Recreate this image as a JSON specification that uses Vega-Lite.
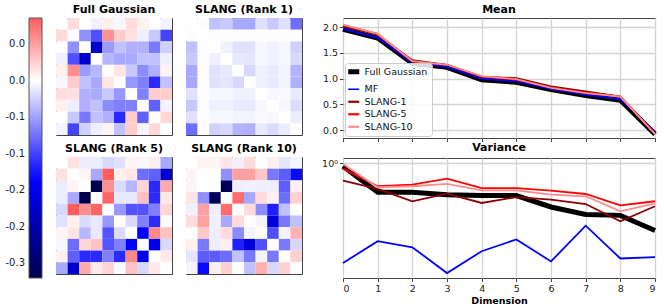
{
  "$schema": "https://vega.github.io/schema/vega-lite/v6.json",
  "background": "white",
  "padding": {"left": 29, "top": 3, "right": 2, "bottom": 2},
  "datasets": {
    "heat": [
      {"p":"Full Gaussian","r":0,"c":0,"v":0},{"p":"Full Gaussian","r":0,"c":1,"v":0.019},{"p":"Full Gaussian","r":0,"c":2,"v":0},{"p":"Full Gaussian","r":0,"c":3,"v":-0.008},{"p":"Full Gaussian","r":0,"c":4,"v":0.008},{"p":"Full Gaussian","r":0,"c":5,"v":-0.004},{"p":"Full Gaussian","r":0,"c":6,"v":0.018},{"p":"Full Gaussian","r":0,"c":7,"v":0.008},{"p":"Full Gaussian","r":0,"c":8,"v":0},{"p":"Full Gaussian","r":0,"c":9,"v":-0.006},
      {"p":"Full Gaussian","r":1,"c":0,"v":0.019},{"p":"Full Gaussian","r":1,"c":1,"v":0},{"p":"Full Gaussian","r":1,"c":2,"v":-0.059},{"p":"Full Gaussian","r":1,"c":3,"v":-0.093},{"p":"Full Gaussian","r":1,"c":4,"v":0.059},{"p":"Full Gaussian","r":1,"c":5,"v":0.027},{"p":"Full Gaussian","r":1,"c":6,"v":0.016},{"p":"Full Gaussian","r":1,"c":7,"v":-0.009},{"p":"Full Gaussian","r":1,"c":8,"v":-0.029},{"p":"Full Gaussian","r":1,"c":9,"v":-0.099},
      {"p":"Full Gaussian","r":2,"c":0,"v":0},{"p":"Full Gaussian","r":2,"c":1,"v":-0.059},{"p":"Full Gaussian","r":2,"c":2,"v":0},{"p":"Full Gaussian","r":2,"c":3,"v":-0.174},{"p":"Full Gaussian","r":2,"c":4,"v":-0.053},{"p":"Full Gaussian","r":2,"c":5,"v":-0.033},{"p":"Full Gaussian","r":2,"c":6,"v":-0.042},{"p":"Full Gaussian","r":2,"c":7,"v":-0.042},{"p":"Full Gaussian","r":2,"c":8,"v":-0.071},{"p":"Full Gaussian","r":2,"c":9,"v":-0.025},
      {"p":"Full Gaussian","r":3,"c":0,"v":-0.008},{"p":"Full Gaussian","r":3,"c":1,"v":-0.093},{"p":"Full Gaussian","r":3,"c":2,"v":-0.174},{"p":"Full Gaussian","r":3,"c":3,"v":0},{"p":"Full Gaussian","r":3,"c":4,"v":-0.038},{"p":"Full Gaussian","r":3,"c":5,"v":-0.046},{"p":"Full Gaussian","r":3,"c":6,"v":-0.045},{"p":"Full Gaussian","r":3,"c":7,"v":-0.033},{"p":"Full Gaussian","r":3,"c":8,"v":-0.033},{"p":"Full Gaussian","r":3,"c":9,"v":-0.009},
      {"p":"Full Gaussian","r":4,"c":0,"v":0.008},{"p":"Full Gaussian","r":4,"c":1,"v":0.059},{"p":"Full Gaussian","r":4,"c":2,"v":-0.053},{"p":"Full Gaussian","r":4,"c":3,"v":-0.038},{"p":"Full Gaussian","r":4,"c":4,"v":0},{"p":"Full Gaussian","r":4,"c":5,"v":0.014},{"p":"Full Gaussian","r":4,"c":6,"v":-0.029},{"p":"Full Gaussian","r":4,"c":7,"v":-0.061},{"p":"Full Gaussian","r":4,"c":8,"v":-0.042},{"p":"Full Gaussian","r":4,"c":9,"v":0.006},
      {"p":"Full Gaussian","r":5,"c":0,"v":-0.004},{"p":"Full Gaussian","r":5,"c":1,"v":0.027},{"p":"Full Gaussian","r":5,"c":2,"v":-0.033},{"p":"Full Gaussian","r":5,"c":3,"v":-0.046},{"p":"Full Gaussian","r":5,"c":4,"v":0.014},{"p":"Full Gaussian","r":5,"c":5,"v":0},{"p":"Full Gaussian","r":5,"c":6,"v":-0.055},{"p":"Full Gaussian","r":5,"c":7,"v":-0.067},{"p":"Full Gaussian","r":5,"c":8,"v":-0.113},{"p":"Full Gaussian","r":5,"c":9,"v":-0.033},
      {"p":"Full Gaussian","r":6,"c":0,"v":0.018},{"p":"Full Gaussian","r":6,"c":1,"v":0.016},{"p":"Full Gaussian","r":6,"c":2,"v":-0.042},{"p":"Full Gaussian","r":6,"c":3,"v":-0.045},{"p":"Full Gaussian","r":6,"c":4,"v":-0.029},{"p":"Full Gaussian","r":6,"c":5,"v":-0.055},{"p":"Full Gaussian","r":6,"c":6,"v":0},{"p":"Full Gaussian","r":6,"c":7,"v":-0.067},{"p":"Full Gaussian","r":6,"c":8,"v":0.027},{"p":"Full Gaussian","r":6,"c":9,"v":0.027},
      {"p":"Full Gaussian","r":7,"c":0,"v":0.008},{"p":"Full Gaussian","r":7,"c":1,"v":-0.009},{"p":"Full Gaussian","r":7,"c":2,"v":-0.042},{"p":"Full Gaussian","r":7,"c":3,"v":-0.033},{"p":"Full Gaussian","r":7,"c":4,"v":-0.061},{"p":"Full Gaussian","r":7,"c":5,"v":-0.067},{"p":"Full Gaussian","r":7,"c":6,"v":-0.067},{"p":"Full Gaussian","r":7,"c":7,"v":0},{"p":"Full Gaussian","r":7,"c":8,"v":-0.084},{"p":"Full Gaussian","r":7,"c":9,"v":-0.006},
      {"p":"Full Gaussian","r":8,"c":0,"v":0},{"p":"Full Gaussian","r":8,"c":1,"v":-0.029},{"p":"Full Gaussian","r":8,"c":2,"v":-0.071},{"p":"Full Gaussian","r":8,"c":3,"v":-0.033},{"p":"Full Gaussian","r":8,"c":4,"v":-0.042},{"p":"Full Gaussian","r":8,"c":5,"v":-0.113},{"p":"Full Gaussian","r":8,"c":6,"v":0.027},{"p":"Full Gaussian","r":8,"c":7,"v":-0.084},{"p":"Full Gaussian","r":8,"c":8,"v":0},{"p":"Full Gaussian","r":8,"c":9,"v":0.021},
      {"p":"Full Gaussian","r":9,"c":0,"v":-0.006},{"p":"Full Gaussian","r":9,"c":1,"v":-0.099},{"p":"Full Gaussian","r":9,"c":2,"v":-0.025},{"p":"Full Gaussian","r":9,"c":3,"v":-0.009},{"p":"Full Gaussian","r":9,"c":4,"v":0.006},{"p":"Full Gaussian","r":9,"c":5,"v":-0.033},{"p":"Full Gaussian","r":9,"c":6,"v":0.027},{"p":"Full Gaussian","r":9,"c":7,"v":-0.006},{"p":"Full Gaussian","r":9,"c":8,"v":0.021},{"p":"Full Gaussian","r":9,"c":9,"v":0},

      {"p":"SLANG (Rank 1)","r":0,"c":0,"v":0},{"p":"SLANG (Rank 1)","r":0,"c":1,"v":-0.001},{"p":"SLANG (Rank 1)","r":0,"c":2,"v":-0.033},{"p":"SLANG (Rank 1)","r":0,"c":3,"v":-0.029},{"p":"SLANG (Rank 1)","r":0,"c":4,"v":-0.046},{"p":"SLANG (Rank 1)","r":0,"c":5,"v":-0.046},{"p":"SLANG (Rank 1)","r":0,"c":6,"v":-0.016},{"p":"SLANG (Rank 1)","r":0,"c":7,"v":-0.029},{"p":"SLANG (Rank 1)","r":0,"c":8,"v":-0.016},{"p":"SLANG (Rank 1)","r":0,"c":9,"v":-0.077},
      {"p":"SLANG (Rank 1)","r":1,"c":0,"v":-0.001},{"p":"SLANG (Rank 1)","r":1,"c":1,"v":0},{"p":"SLANG (Rank 1)","r":1,"c":2,"v":-0.001},{"p":"SLANG (Rank 1)","r":1,"c":3,"v":-0.001},{"p":"SLANG (Rank 1)","r":1,"c":4,"v":-0.001},{"p":"SLANG (Rank 1)","r":1,"c":5,"v":-0.001},{"p":"SLANG (Rank 1)","r":1,"c":6,"v":-0.001},{"p":"SLANG (Rank 1)","r":1,"c":7,"v":-0.001},{"p":"SLANG (Rank 1)","r":1,"c":8,"v":-0.001},{"p":"SLANG (Rank 1)","r":1,"c":9,"v":-0.001},
      {"p":"SLANG (Rank 1)","r":2,"c":0,"v":-0.033},{"p":"SLANG (Rank 1)","r":2,"c":1,"v":-0.001},{"p":"SLANG (Rank 1)","r":2,"c":2,"v":0},{"p":"SLANG (Rank 1)","r":2,"c":3,"v":-0.008},{"p":"SLANG (Rank 1)","r":2,"c":4,"v":-0.016},{"p":"SLANG (Rank 1)","r":2,"c":5,"v":-0.016},{"p":"SLANG (Rank 1)","r":2,"c":6,"v":-0.004},{"p":"SLANG (Rank 1)","r":2,"c":7,"v":-0.008},{"p":"SLANG (Rank 1)","r":2,"c":8,"v":-0.004},{"p":"SLANG (Rank 1)","r":2,"c":9,"v":-0.025},
      {"p":"SLANG (Rank 1)","r":3,"c":0,"v":-0.029},{"p":"SLANG (Rank 1)","r":3,"c":1,"v":-0.001},{"p":"SLANG (Rank 1)","r":3,"c":2,"v":-0.008},{"p":"SLANG (Rank 1)","r":3,"c":3,"v":0},{"p":"SLANG (Rank 1)","r":3,"c":4,"v":-0.012},{"p":"SLANG (Rank 1)","r":3,"c":5,"v":-0.014},{"p":"SLANG (Rank 1)","r":3,"c":6,"v":-0.004},{"p":"SLANG (Rank 1)","r":3,"c":7,"v":-0.008},{"p":"SLANG (Rank 1)","r":3,"c":8,"v":-0.004},{"p":"SLANG (Rank 1)","r":3,"c":9,"v":-0.021},
      {"p":"SLANG (Rank 1)","r":4,"c":0,"v":-0.046},{"p":"SLANG (Rank 1)","r":4,"c":1,"v":-0.001},{"p":"SLANG (Rank 1)","r":4,"c":2,"v":-0.016},{"p":"SLANG (Rank 1)","r":4,"c":3,"v":-0.012},{"p":"SLANG (Rank 1)","r":4,"c":4,"v":0},{"p":"SLANG (Rank 1)","r":4,"c":5,"v":-0.021},{"p":"SLANG (Rank 1)","r":4,"c":6,"v":-0.008},{"p":"SLANG (Rank 1)","r":4,"c":7,"v":-0.011},{"p":"SLANG (Rank 1)","r":4,"c":8,"v":-0.006},{"p":"SLANG (Rank 1)","r":4,"c":9,"v":-0.040},
      {"p":"SLANG (Rank 1)","r":5,"c":0,"v":-0.046},{"p":"SLANG (Rank 1)","r":5,"c":1,"v":-0.001},{"p":"SLANG (Rank 1)","r":5,"c":2,"v":-0.016},{"p":"SLANG (Rank 1)","r":5,"c":3,"v":-0.014},{"p":"SLANG (Rank 1)","r":5,"c":4,"v":-0.021},{"p":"SLANG (Rank 1)","r":5,"c":5,"v":0},{"p":"SLANG (Rank 1)","r":5,"c":6,"v":-0.008},{"p":"SLANG (Rank 1)","r":5,"c":7,"v":-0.012},{"p":"SLANG (Rank 1)","r":5,"c":8,"v":-0.006},{"p":"SLANG (Rank 1)","r":5,"c":9,"v":-0.042},
      {"p":"SLANG (Rank 1)","r":6,"c":0,"v":-0.016},{"p":"SLANG (Rank 1)","r":6,"c":1,"v":-0.001},{"p":"SLANG (Rank 1)","r":6,"c":2,"v":-0.004},{"p":"SLANG (Rank 1)","r":6,"c":3,"v":-0.004},{"p":"SLANG (Rank 1)","r":6,"c":4,"v":-0.008},{"p":"SLANG (Rank 1)","r":6,"c":5,"v":-0.008},{"p":"SLANG (Rank 1)","r":6,"c":6,"v":0},{"p":"SLANG (Rank 1)","r":6,"c":7,"v":-0.004},{"p":"SLANG (Rank 1)","r":6,"c":8,"v":-0.003},{"p":"SLANG (Rank 1)","r":6,"c":9,"v":-0.012},
      {"p":"SLANG (Rank 1)","r":7,"c":0,"v":-0.029},{"p":"SLANG (Rank 1)","r":7,"c":1,"v":-0.001},{"p":"SLANG (Rank 1)","r":7,"c":2,"v":-0.008},{"p":"SLANG (Rank 1)","r":7,"c":3,"v":-0.008},{"p":"SLANG (Rank 1)","r":7,"c":4,"v":-0.011},{"p":"SLANG (Rank 1)","r":7,"c":5,"v":-0.012},{"p":"SLANG (Rank 1)","r":7,"c":6,"v":-0.004},{"p":"SLANG (Rank 1)","r":7,"c":7,"v":0},{"p":"SLANG (Rank 1)","r":7,"c":8,"v":-0.004},{"p":"SLANG (Rank 1)","r":7,"c":9,"v":-0.019},
      {"p":"SLANG (Rank 1)","r":8,"c":0,"v":-0.016},{"p":"SLANG (Rank 1)","r":8,"c":1,"v":-0.001},{"p":"SLANG (Rank 1)","r":8,"c":2,"v":-0.004},{"p":"SLANG (Rank 1)","r":8,"c":3,"v":-0.004},{"p":"SLANG (Rank 1)","r":8,"c":4,"v":-0.006},{"p":"SLANG (Rank 1)","r":8,"c":5,"v":-0.006},{"p":"SLANG (Rank 1)","r":8,"c":6,"v":-0.003},{"p":"SLANG (Rank 1)","r":8,"c":7,"v":-0.004},{"p":"SLANG (Rank 1)","r":8,"c":8,"v":0},{"p":"SLANG (Rank 1)","r":8,"c":9,"v":-0.010},
      {"p":"SLANG (Rank 1)","r":9,"c":0,"v":-0.077},{"p":"SLANG (Rank 1)","r":9,"c":1,"v":-0.001},{"p":"SLANG (Rank 1)","r":9,"c":2,"v":-0.025},{"p":"SLANG (Rank 1)","r":9,"c":3,"v":-0.021},{"p":"SLANG (Rank 1)","r":9,"c":4,"v":-0.040},{"p":"SLANG (Rank 1)","r":9,"c":5,"v":-0.042},{"p":"SLANG (Rank 1)","r":9,"c":6,"v":-0.012},{"p":"SLANG (Rank 1)","r":9,"c":7,"v":-0.019},{"p":"SLANG (Rank 1)","r":9,"c":8,"v":-0.010},{"p":"SLANG (Rank 1)","r":9,"c":9,"v":0},

      {"p":"SLANG (Rank 5)","r":0,"c":0,"v":0},{"p":"SLANG (Rank 5)","r":0,"c":1,"v":0.016},{"p":"SLANG (Rank 5)","r":0,"c":2,"v":-0.010},{"p":"SLANG (Rank 5)","r":0,"c":3,"v":-0.010},{"p":"SLANG (Rank 5)","r":0,"c":4,"v":-0.021},{"p":"SLANG (Rank 5)","r":0,"c":5,"v":-0.016},{"p":"SLANG (Rank 5)","r":0,"c":6,"v":0.006},{"p":"SLANG (Rank 5)","r":0,"c":7,"v":-0.004},{"p":"SLANG (Rank 5)","r":0,"c":8,"v":0.008},{"p":"SLANG (Rank 5)","r":0,"c":9,"v":-0.046},
      {"p":"SLANG (Rank 5)","r":1,"c":0,"v":0.016},{"p":"SLANG (Rank 5)","r":1,"c":1,"v":0},{"p":"SLANG (Rank 5)","r":1,"c":2,"v":0.006},{"p":"SLANG (Rank 5)","r":1,"c":3,"v":-0.046},{"p":"SLANG (Rank 5)","r":1,"c":4,"v":0.088},{"p":"SLANG (Rank 5)","r":1,"c":5,"v":0.008},{"p":"SLANG (Rank 5)","r":1,"c":6,"v":0.014},{"p":"SLANG (Rank 5)","r":1,"c":7,"v":-0.078},{"p":"SLANG (Rank 5)","r":1,"c":8,"v":-0.084},{"p":"SLANG (Rank 5)","r":1,"c":9,"v":-0.174},
      {"p":"SLANG (Rank 5)","r":2,"c":0,"v":-0.010},{"p":"SLANG (Rank 5)","r":2,"c":1,"v":0.006},{"p":"SLANG (Rank 5)","r":2,"c":2,"v":0},{"p":"SLANG (Rank 5)","r":2,"c":3,"v":-0.27},{"p":"SLANG (Rank 5)","r":2,"c":4,"v":0.059},{"p":"SLANG (Rank 5)","r":2,"c":5,"v":-0.019},{"p":"SLANG (Rank 5)","r":2,"c":6,"v":-0.038},{"p":"SLANG (Rank 5)","r":2,"c":7,"v":0.023},{"p":"SLANG (Rank 5)","r":2,"c":8,"v":-0.114},{"p":"SLANG (Rank 5)","r":2,"c":9,"v":0.045},
      {"p":"SLANG (Rank 5)","r":3,"c":0,"v":-0.010},{"p":"SLANG (Rank 5)","r":3,"c":1,"v":-0.046},{"p":"SLANG (Rank 5)","r":3,"c":2,"v":-0.27},{"p":"SLANG (Rank 5)","r":3,"c":3,"v":0},{"p":"SLANG (Rank 5)","r":3,"c":4,"v":0.082},{"p":"SLANG (Rank 5)","r":3,"c":5,"v":-0.012},{"p":"SLANG (Rank 5)","r":3,"c":6,"v":-0.012},{"p":"SLANG (Rank 5)","r":3,"c":7,"v":0.033},{"p":"SLANG (Rank 5)","r":3,"c":8,"v":-0.112},{"p":"SLANG (Rank 5)","r":3,"c":9,"v":0.012},
      {"p":"SLANG (Rank 5)","r":4,"c":0,"v":-0.021},{"p":"SLANG (Rank 5)","r":4,"c":1,"v":0.088},{"p":"SLANG (Rank 5)","r":4,"c":2,"v":0.059},{"p":"SLANG (Rank 5)","r":4,"c":3,"v":0.082},{"p":"SLANG (Rank 5)","r":4,"c":4,"v":0},{"p":"SLANG (Rank 5)","r":4,"c":5,"v":-0.055},{"p":"SLANG (Rank 5)","r":4,"c":6,"v":-0.091},{"p":"SLANG (Rank 5)","r":4,"c":7,"v":-0.091},{"p":"SLANG (Rank 5)","r":4,"c":8,"v":-0.067},{"p":"SLANG (Rank 5)","r":4,"c":9,"v":0.023},
      {"p":"SLANG (Rank 5)","r":5,"c":0,"v":-0.016},{"p":"SLANG (Rank 5)","r":5,"c":1,"v":0.008},{"p":"SLANG (Rank 5)","r":5,"c":2,"v":-0.019},{"p":"SLANG (Rank 5)","r":5,"c":3,"v":-0.012},{"p":"SLANG (Rank 5)","r":5,"c":4,"v":-0.055},{"p":"SLANG (Rank 5)","r":5,"c":5,"v":0},{"p":"SLANG (Rank 5)","r":5,"c":6,"v":-0.019},{"p":"SLANG (Rank 5)","r":5,"c":7,"v":-0.067},{"p":"SLANG (Rank 5)","r":5,"c":8,"v":-0.112},{"p":"SLANG (Rank 5)","r":5,"c":9,"v":-0.002},
      {"p":"SLANG (Rank 5)","r":6,"c":0,"v":0.006},{"p":"SLANG (Rank 5)","r":6,"c":1,"v":0.014},{"p":"SLANG (Rank 5)","r":6,"c":2,"v":-0.038},{"p":"SLANG (Rank 5)","r":6,"c":3,"v":-0.012},{"p":"SLANG (Rank 5)","r":6,"c":4,"v":-0.091},{"p":"SLANG (Rank 5)","r":6,"c":5,"v":-0.019},{"p":"SLANG (Rank 5)","r":6,"c":6,"v":0},{"p":"SLANG (Rank 5)","r":6,"c":7,"v":-0.135},{"p":"SLANG (Rank 5)","r":6,"c":8,"v":0.063},{"p":"SLANG (Rank 5)","r":6,"c":9,"v":0.033},
      {"p":"SLANG (Rank 5)","r":7,"c":0,"v":-0.004},{"p":"SLANG (Rank 5)","r":7,"c":1,"v":-0.078},{"p":"SLANG (Rank 5)","r":7,"c":2,"v":0.023},{"p":"SLANG (Rank 5)","r":7,"c":3,"v":0.033},{"p":"SLANG (Rank 5)","r":7,"c":4,"v":-0.091},{"p":"SLANG (Rank 5)","r":7,"c":5,"v":-0.067},{"p":"SLANG (Rank 5)","r":7,"c":6,"v":-0.135},{"p":"SLANG (Rank 5)","r":7,"c":7,"v":0},{"p":"SLANG (Rank 5)","r":7,"c":8,"v":-0.146},{"p":"SLANG (Rank 5)","r":7,"c":9,"v":-0.021},
      {"p":"SLANG (Rank 5)","r":8,"c":0,"v":0.008},{"p":"SLANG (Rank 5)","r":8,"c":1,"v":-0.084},{"p":"SLANG (Rank 5)","r":8,"c":2,"v":-0.114},{"p":"SLANG (Rank 5)","r":8,"c":3,"v":-0.112},{"p":"SLANG (Rank 5)","r":8,"c":4,"v":-0.067},{"p":"SLANG (Rank 5)","r":8,"c":5,"v":-0.112},{"p":"SLANG (Rank 5)","r":8,"c":6,"v":0.063},{"p":"SLANG (Rank 5)","r":8,"c":7,"v":-0.146},{"p":"SLANG (Rank 5)","r":8,"c":8,"v":0},{"p":"SLANG (Rank 5)","r":8,"c":9,"v":0.012},
      {"p":"SLANG (Rank 5)","r":9,"c":0,"v":-0.046},{"p":"SLANG (Rank 5)","r":9,"c":1,"v":-0.174},{"p":"SLANG (Rank 5)","r":9,"c":2,"v":0.045},{"p":"SLANG (Rank 5)","r":9,"c":3,"v":0.012},{"p":"SLANG (Rank 5)","r":9,"c":4,"v":0.023},{"p":"SLANG (Rank 5)","r":9,"c":5,"v":-0.002},{"p":"SLANG (Rank 5)","r":9,"c":6,"v":0.033},{"p":"SLANG (Rank 5)","r":9,"c":7,"v":-0.021},{"p":"SLANG (Rank 5)","r":9,"c":8,"v":0.012},{"p":"SLANG (Rank 5)","r":9,"c":9,"v":0},

      {"p":"SLANG (Rank 10)","r":0,"c":0,"v":0},{"p":"SLANG (Rank 10)","r":0,"c":1,"v":0.006},{"p":"SLANG (Rank 10)","r":0,"c":2,"v":0.006},{"p":"SLANG (Rank 10)","r":0,"c":3,"v":0.014},{"p":"SLANG (Rank 10)","r":0,"c":4,"v":-0.008},{"p":"SLANG (Rank 10)","r":0,"c":5,"v":0.019},{"p":"SLANG (Rank 10)","r":0,"c":6,"v":0},{"p":"SLANG (Rank 10)","r":0,"c":7,"v":0.008},{"p":"SLANG (Rank 10)","r":0,"c":8,"v":-0.014},{"p":"SLANG (Rank 10)","r":0,"c":9,"v":-0.006},
      {"p":"SLANG (Rank 10)","r":1,"c":0,"v":0.006},{"p":"SLANG (Rank 10)","r":1,"c":1,"v":0},{"p":"SLANG (Rank 10)","r":1,"c":2,"v":0},{"p":"SLANG (Rank 10)","r":1,"c":3,"v":-0.059},{"p":"SLANG (Rank 10)","r":1,"c":4,"v":0.050},{"p":"SLANG (Rank 10)","r":1,"c":5,"v":0.050},{"p":"SLANG (Rank 10)","r":1,"c":6,"v":0.029},{"p":"SLANG (Rank 10)","r":1,"c":7,"v":-0.071},{"p":"SLANG (Rank 10)","r":1,"c":8,"v":-0.086},{"p":"SLANG (Rank 10)","r":1,"c":9,"v":-0.130},
      {"p":"SLANG (Rank 10)","r":2,"c":0,"v":0.006},{"p":"SLANG (Rank 10)","r":2,"c":1,"v":0},{"p":"SLANG (Rank 10)","r":2,"c":2,"v":0},{"p":"SLANG (Rank 10)","r":2,"c":3,"v":-0.26},{"p":"SLANG (Rank 10)","r":2,"c":4,"v":-0.009},{"p":"SLANG (Rank 10)","r":2,"c":5,"v":-0.008},{"p":"SLANG (Rank 10)","r":2,"c":6,"v":-0.009},{"p":"SLANG (Rank 10)","r":2,"c":7,"v":-0.009},{"p":"SLANG (Rank 10)","r":2,"c":8,"v":-0.086},{"p":"SLANG (Rank 10)","r":2,"c":9,"v":0.008},
      {"p":"SLANG (Rank 10)","r":3,"c":0,"v":0.014},{"p":"SLANG (Rank 10)","r":3,"c":1,"v":-0.059},{"p":"SLANG (Rank 10)","r":3,"c":2,"v":-0.26},{"p":"SLANG (Rank 10)","r":3,"c":3,"v":0},{"p":"SLANG (Rank 10)","r":3,"c":4,"v":0.078},{"p":"SLANG (Rank 10)","r":3,"c":5,"v":-0.046},{"p":"SLANG (Rank 10)","r":3,"c":6,"v":0.019},{"p":"SLANG (Rank 10)","r":3,"c":7,"v":0.008},{"p":"SLANG (Rank 10)","r":3,"c":8,"v":-0.078},{"p":"SLANG (Rank 10)","r":3,"c":9,"v":0.025},
      {"p":"SLANG (Rank 10)","r":4,"c":0,"v":-0.008},{"p":"SLANG (Rank 10)","r":4,"c":1,"v":0.050},{"p":"SLANG (Rank 10)","r":4,"c":2,"v":-0.009},{"p":"SLANG (Rank 10)","r":4,"c":3,"v":0.078},{"p":"SLANG (Rank 10)","r":4,"c":4,"v":0},{"p":"SLANG (Rank 10)","r":4,"c":5,"v":0.019},{"p":"SLANG (Rank 10)","r":4,"c":6,"v":-0.061},{"p":"SLANG (Rank 10)","r":4,"c":7,"v":-0.118},{"p":"SLANG (Rank 10)","r":4,"c":8,"v":-0.033},{"p":"SLANG (Rank 10)","r":4,"c":9,"v":0},
      {"p":"SLANG (Rank 10)","r":5,"c":0,"v":0.019},{"p":"SLANG (Rank 10)","r":5,"c":1,"v":0.050},{"p":"SLANG (Rank 10)","r":5,"c":2,"v":-0.008},{"p":"SLANG (Rank 10)","r":5,"c":3,"v":-0.046},{"p":"SLANG (Rank 10)","r":5,"c":4,"v":0.019},{"p":"SLANG (Rank 10)","r":5,"c":5,"v":0},{"p":"SLANG (Rank 10)","r":5,"c":6,"v":-0.006},{"p":"SLANG (Rank 10)","r":5,"c":7,"v":-0.161},{"p":"SLANG (Rank 10)","r":5,"c":8,"v":-0.071},{"p":"SLANG (Rank 10)","r":5,"c":9,"v":-0.033},
      {"p":"SLANG (Rank 10)","r":6,"c":0,"v":0},{"p":"SLANG (Rank 10)","r":6,"c":1,"v":0.029},{"p":"SLANG (Rank 10)","r":6,"c":2,"v":-0.009},{"p":"SLANG (Rank 10)","r":6,"c":3,"v":0.019},{"p":"SLANG (Rank 10)","r":6,"c":4,"v":-0.061},{"p":"SLANG (Rank 10)","r":6,"c":5,"v":-0.006},{"p":"SLANG (Rank 10)","r":6,"c":6,"v":0},{"p":"SLANG (Rank 10)","r":6,"c":7,"v":-0.093},{"p":"SLANG (Rank 10)","r":6,"c":8,"v":-0.006},{"p":"SLANG (Rank 10)","r":6,"c":9,"v":0.042},
      {"p":"SLANG (Rank 10)","r":7,"c":0,"v":0.008},{"p":"SLANG (Rank 10)","r":7,"c":1,"v":-0.071},{"p":"SLANG (Rank 10)","r":7,"c":2,"v":-0.009},{"p":"SLANG (Rank 10)","r":7,"c":3,"v":0.008},{"p":"SLANG (Rank 10)","r":7,"c":4,"v":-0.118},{"p":"SLANG (Rank 10)","r":7,"c":5,"v":-0.161},{"p":"SLANG (Rank 10)","r":7,"c":6,"v":-0.093},{"p":"SLANG (Rank 10)","r":7,"c":7,"v":0},{"p":"SLANG (Rank 10)","r":7,"c":8,"v":-0.071},{"p":"SLANG (Rank 10)","r":7,"c":9,"v":-0.021},
      {"p":"SLANG (Rank 10)","r":8,"c":0,"v":-0.014},{"p":"SLANG (Rank 10)","r":8,"c":1,"v":-0.086},{"p":"SLANG (Rank 10)","r":8,"c":2,"v":-0.086},{"p":"SLANG (Rank 10)","r":8,"c":3,"v":-0.078},{"p":"SLANG (Rank 10)","r":8,"c":4,"v":-0.033},{"p":"SLANG (Rank 10)","r":8,"c":5,"v":-0.071},{"p":"SLANG (Rank 10)","r":8,"c":6,"v":-0.006},{"p":"SLANG (Rank 10)","r":8,"c":7,"v":-0.071},{"p":"SLANG (Rank 10)","r":8,"c":8,"v":0},{"p":"SLANG (Rank 10)","r":8,"c":9,"v":0.025},
      {"p":"SLANG (Rank 10)","r":9,"c":0,"v":-0.006},{"p":"SLANG (Rank 10)","r":9,"c":1,"v":-0.130},{"p":"SLANG (Rank 10)","r":9,"c":2,"v":0.008},{"p":"SLANG (Rank 10)","r":9,"c":3,"v":0.025},{"p":"SLANG (Rank 10)","r":9,"c":4,"v":0},{"p":"SLANG (Rank 10)","r":9,"c":5,"v":-0.033},{"p":"SLANG (Rank 10)","r":9,"c":6,"v":0.042},{"p":"SLANG (Rank 10)","r":9,"c":7,"v":-0.021},{"p":"SLANG (Rank 10)","r":9,"c":8,"v":0.025},{"p":"SLANG (Rank 10)","r":9,"c":9,"v":0}
    ],
    "lines": [
      {"s":"Full Gaussian","d":0,"mean":1.96,"var":0.966},{"s":"Full Gaussian","d":1,"mean":1.79,"var":0.736},{"s":"Full Gaussian","d":2,"mean":1.30,"var":0.736},{"s":"Full Gaussian","d":3,"mean":1.22,"var":0.718},{"s":"Full Gaussian","d":4,"mean":0.98,"var":0.711},{"s":"Full Gaussian","d":5,"mean":0.93,"var":0.711},{"s":"Full Gaussian","d":6,"mean":0.79,"var":0.631},{"s":"Full Gaussian","d":7,"mean":0.67,"var":0.584},{"s":"Full Gaussian","d":8,"mean":0.58,"var":0.578},{"s":"Full Gaussian","d":9,"mean":-0.08,"var":0.493},
      {"s":"MF","d":0,"mean":1.97,"var":0.351},{"s":"MF","d":1,"mean":1.80,"var":0.441},{"s":"MF","d":2,"mean":1.31,"var":0.414},{"s":"MF","d":3,"mean":1.23,"var":0.316},{"s":"MF","d":4,"mean":1.00,"var":0.397},{"s":"MF","d":5,"mean":0.95,"var":0.449},{"s":"MF","d":6,"mean":0.80,"var":0.357},{"s":"MF","d":7,"mean":0.69,"var":0.519},{"s":"MF","d":8,"mean":0.60,"var":0.368},{"s":"MF","d":9,"mean":-0.03,"var":0.373},
      {"s":"SLANG-1","d":0,"mean":2.02,"var":0.832},{"s":"SLANG-1","d":1,"mean":1.85,"var":0.762},{"s":"SLANG-1","d":2,"mean":1.36,"var":0.670},{"s":"SLANG-1","d":3,"mean":1.27,"var":0.726},{"s":"SLANG-1","d":4,"mean":1.04,"var":0.658},{"s":"SLANG-1","d":5,"mean":1.01,"var":0.700},{"s":"SLANG-1","d":6,"mean":0.85,"var":0.681},{"s":"SLANG-1","d":7,"mean":0.75,"var":0.651},{"s":"SLANG-1","d":8,"mean":0.65,"var":0.543},{"s":"SLANG-1","d":9,"mean":-0.06,"var":0.636},
      {"s":"SLANG-5","d":0,"mean":2.04,"var":0.943},{"s":"SLANG-5","d":1,"mean":1.87,"var":0.784},{"s":"SLANG-5","d":2,"mean":1.33,"var":0.798},{"s":"SLANG-5","d":3,"mean":1.27,"var":0.849},{"s":"SLANG-5","d":4,"mean":1.04,"var":0.769},{"s":"SLANG-5","d":5,"mean":0.98,"var":0.769},{"s":"SLANG-5","d":6,"mean":0.83,"var":0.749},{"s":"SLANG-5","d":7,"mean":0.73,"var":0.723},{"s":"SLANG-5","d":8,"mean":0.65,"var":0.642},{"s":"SLANG-5","d":9,"mean":-0.07,"var":0.670},
      {"s":"SLANG-10","d":0,"mean":2.05,"var":0.99},{"s":"SLANG-10","d":1,"mean":1.87,"var":0.776},{"s":"SLANG-10","d":2,"mean":1.34,"var":0.784},{"s":"SLANG-10","d":3,"mean":1.27,"var":0.803},{"s":"SLANG-10","d":4,"mean":1.05,"var":0.751},{"s":"SLANG-10","d":5,"mean":0.99,"var":0.751},{"s":"SLANG-10","d":6,"mean":0.82,"var":0.718},{"s":"SLANG-10","d":7,"mean":0.72,"var":0.706},{"s":"SLANG-10","d":8,"mean":0.65,"var":0.603},{"s":"SLANG-10","d":9,"mean":-0.08,"var":0.656}
    ]
  },
  "hconcat": [
    {
      "data": {"name": "heat"},
      "facet": {
        "field": "p", "type": "nominal",
        "sort": ["Full Gaussian", "SLANG (Rank 1)", "SLANG (Rank 5)", "SLANG (Rank 10)"],
        "header": {"title": null, "labelFontSize": 11, "labelFontWeight": "bold", "labelFont": "DejaVu Sans", "labelColor": "#000", "labelPadding": 3}
      },
      "columns": 2,
      "spacing": {"row": 6, "column": 12},
      "spec": {
        "width": 116,
        "height": 117,
        "mark": {"type": "rect"},
        "encoding": {
          "x": {"field": "c", "type": "ordinal", "axis": null},
          "y": {"field": "r", "type": "ordinal", "axis": null},
          "color": {
            "field": "v", "type": "quantitative",
            "scale": {"domain": [-0.27, -0.135, 0, 0.086], "range": ["#00004d", "#0000ff", "#ffffff", "#ff5d5d"], "interpolate": "rgb", "clamp": true},
            "legend": {
              "orient": "left", "title": null, "direction": "vertical",
              "values": [0.05, 0, -0.05, -0.1, -0.15, -0.2, -0.25],
              "labelExpr": "datum.value > -0.02 ? '0.0' : datum.value > -0.12 ? '-0.1' : datum.value > -0.22 ? '-0.2' : '-0.3'",
              "gradientLength": 260, "gradientThickness": 13,
              "gradientStrokeColor": "#555", "gradientStrokeWidth": 1,
              "labelFontSize": 10, "labelColor": "#222",
              "labelOverlap": false, "offset": 12,
              "encode": {"labels": {"update": {"align": {"value": "right"}, "x": {"value": -4}}}}
            }
          }
        }
      }
    },
    {
      "data": {"name": "lines"},
      "spacing": -4,
      "resolve": {"scale": {"color": "independent"}},
      "vconcat": [
        {
          "width": 312, "height": 120,
          "title": "Mean",
          "mark": {"type": "line", "strokeCap": "butt", "strokeJoin": "miter"},
          "encoding": {
            "x": {"field": "d", "type": "quantitative", "scale": {"domain": [0, 9], "nice": false},
                  "axis": {"values": [0,1,2,3,4,5,6,7,8,9], "labels": false, "title": null, "grid": true}},
            "y": {"field": "mean", "type": "quantitative", "scale": {"domain": [-0.155, 2.18], "nice": false, "zero": false},
                  "axis": {"values": [0, 0.5, 1, 1.5, 2], "format": ".1f", "title": null, "grid": true}},
            "color": {"field": "s", "type": "nominal",
                      "scale": {"domain": ["Full Gaussian", "MF", "SLANG-1", "SLANG-5", "SLANG-10"], "range": ["#000000", "#0000ff", "#8b0000", "#ff0000", "#ff8c8c"]},
                      "legend": {"orient": "bottom-left", "title": null, "symbolType": "stroke", "symbolSize": 121,
                                 "labelFontSize": 9.5, "labelColor": "#111", "fillColor": "rgba(255,255,255,0.85)", "strokeColor": "#cccccc",
                                 "cornerRadius": 3, "padding": 4, "offset": 2, "rowPadding": 1.5, "labelOffset": 6,
                                 "encode": {"symbols": {"update": {"strokeWidth": {"signal": "datum.value === 'Full Gaussian' ? 5 : (datum.value === 'MF' ? 1.5 : 2.2)"}}}}}},
            "strokeWidth": {"condition": {"test": "datum.s === 'Full Gaussian'", "value": 5}, "value": 1.8}
          }
        },
        {
          "width": 312, "height": 120,
          "title": "Variance",
          "mark": {"type": "line", "strokeCap": "butt", "strokeJoin": "miter"},
          "encoding": {
            "x": {"field": "d", "type": "quantitative", "scale": {"domain": [0, 9], "nice": false},
                  "axis": {"values": [0,1,2,3,4,5,6,7,8,9], "title": "Dimension", "grid": true}},
            "y": {"field": "var", "type": "quantitative", "scale": {"type": "log", "domain": [0.3, 1.054], "nice": false},
                  "axis": {"values": [1], "labelExpr": "'10⁰'", "title": null, "grid": true}},
            "color": {"field": "s", "type": "nominal",
                      "scale": {"domain": ["Full Gaussian", "MF", "SLANG-1", "SLANG-5", "SLANG-10"], "range": ["#000000", "#0000ff", "#8b0000", "#ff0000", "#ff8c8c"]},
                      "legend": null},
            "strokeWidth": {"condition": {"test": "datum.s === 'Full Gaussian'", "value": 5}, "value": 1.8}
          }
        }
      ]
    }
  ],
  "spacing": 18,
  "resolve": {"scale": {"color": "independent"}, "legend": {"color": "independent"}},
  "config": {
    "font": "DejaVu Sans",
    "view": {"stroke": "#444", "strokeWidth": 1},
    "axis": {"labelFont": "DejaVu Sans", "labelFontSize": 9.5, "labelColor": "#222", "tickColor": "#444", "tickSize": 3.5,
             "domain": false, "gridColor": "#d4d4d4", "gridWidth": 1.4, "labelPadding": 2,
             "titleFont": "DejaVu Sans", "titleFontSize": 9.5, "titleFontWeight": "bold", "titleColor": "#000", "titlePadding": 2},
    "title": {"font": "DejaVu Sans", "fontSize": 11, "fontWeight": "bold", "color": "#000", "offset": 3},
    "legend": {"labelFont": "DejaVu Sans"}
  }
}
